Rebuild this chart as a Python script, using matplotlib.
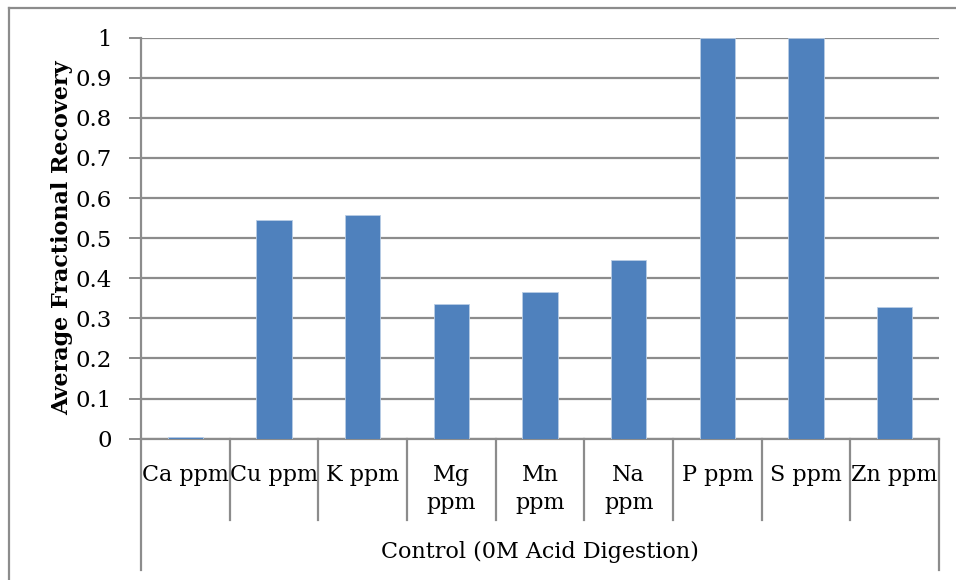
import numpy as np
import matplotlib.pyplot as plt
from matplotlib.lines import Line2D

# data
elements = ["Ca ppm", "Cu ppm", "K ppm", "Mg\nppm", "Mn\nppm", "Na\nppm", "P ppm", "S ppm", "Zn ppm"]
recovery = [0.003, 0.546, 0.558, 0.335, 0.366, 0.446, 1.0, 1.0, 0.328]
group_label = "Control (0M Acid Digestion)"
y_ticks = [0, 0.1, 0.2, 0.3, 0.4, 0.5, 0.6, 0.7, 0.8, 0.9, 1]

plt.rcParams['font.family'] = ['DejaVu Serif']
grey = "#8c8c8c"
fs = 16

W, H = 956, 580
fig = plt.figure(figsize=(W / 100, H / 100), dpi=100)

# plot area in pixels
left, right, top, bottom = 141, 939, 37.7, 438.7
ax = fig.add_axes([left / W, 1 - bottom / H, (right - left) / W, (bottom - top) / H])

x = np.arange(len(elements))
ax.bar(x, recovery, width=0.4, color="#4f81bd", edgecolor="#b9cde5", linewidth=0.6, zorder=3)

ax.set_xlim(-0.5, len(elements) - 0.5)
ax.set_ylim(0, 1)
ax.set_yticks(y_ticks)
ax.set_yticklabels([f"{v:g}" for v in y_ticks], fontsize=16.5)
ax.yaxis.grid(True, color=grey, linewidth=1.6, zorder=0)
ax.tick_params(axis="y", length=9, width=1.4, color=grey, pad=12)

ax.set_xticks(x)
ax.set_xticklabels(elements, fontsize=fs, linespacing=1.4)
ax.tick_params(axis="x", length=0, pad=18)

for side in ["top", "right"]:
    ax.spines[side].set_visible(False)
for side in ["left", "bottom"]:
    ax.spines[side].set_color(grey)
    ax.spines[side].set_linewidth(1.6)

# category boundaries below the axis (two-level category axis)
trans = ax.get_xaxis_transform()
inner = -(520 - bottom) / (bottom - top)
outer = -(570 - bottom) / (bottom - top)
for b in np.arange(0.5, len(elements) - 1, 1.0):
    ax.plot([b, b], [0, inner], transform=trans, color=grey, lw=1.6, clip_on=False)
for b in [-0.5, len(elements) - 0.5]:
    ax.plot([b, b], [0, outer], transform=trans, color=grey, lw=1.6, clip_on=False)

fig.text(540 / W, 1 - 552 / H, group_label, ha="center", va="center", fontsize=fs)
fig.text(62 / W, 1 - 238 / H, "Average Fractional Recovery", rotation=90,
         ha="center", va="center", fontsize=fs, fontweight="bold")

# chart frame (right and bottom edges fall outside the image)
fig.add_artist(Line2D([9 / W, 1], [1 - 8 / H, 1 - 8 / H], color=grey, lw=1.6))
fig.add_artist(Line2D([9 / W, 9 / W], [1 - 8 / H, 0], color=grey, lw=1.6))

fig.savefig("out.png", dpi=100)
